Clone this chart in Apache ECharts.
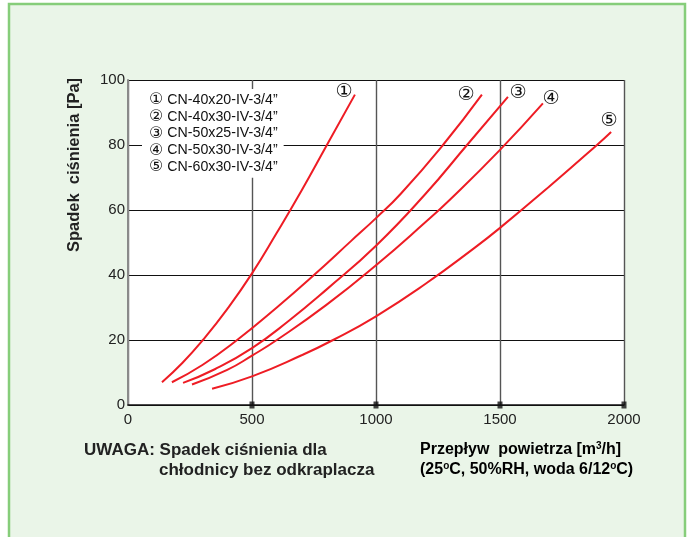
<!DOCTYPE html>
<html><head><meta charset="utf-8">
<script src="https://cdn.jsdelivr.net/npm/echarts@6/dist/echarts.min.js"></script>
<style>html,body{margin:0;padding:0;background:#fff}#c{width:688px;height:537px}</style>
</head><body><div id="c"></div>
<script>
const seriesNames = ['CN-40x20-IV-3/4\u201d','CN-40x30-IV-3/4\u201d','CN-50x25-IV-3/4\u201d','CN-50x30-IV-3/4\u201d','CN-60x30-IV-3/4\u201d'];
const seriesMarks = ['\u2460','\u2461','\u2462','\u2463','\u2464'];
const curve1 = [[137,7],[220,13],[302,20],[400,29.5],[500,40.5],[600,53],[700,66],[802,80],[915,95.5]];
const curve2 = [[177,7],[300,12.3],[440,20],[600,30],[750,40],[900,50.5],[1000,57.5],[1100,65],[1270,80],[1427,95.5]];
const curve3 = [[222,6.8],[350,11],[500,17.5],[650,26],[800,35.5],[1000,49],[1200,65],[1367,80],[1532,94.8]];
const curve4 = [[258,6.3],[400,10.8],[500,15.2],[600,20],[800,30.8],[1000,43],[1200,56.3],[1300,63.3],[1500,78.5],[1673,92.8]];
const curve5 = [[339,5],[500,8.8],[700,15.3],[827,20],[1000,27.3],[1200,37.3],[1400,48.5],[1500,54.5],[1700,67.3],[1891,80],[1948,84]];
const curves = [curve1, curve2, curve3, curve4, curve5];
const endLabelOffsets = [[-11,-3],[-16,0],[10,-4],[8,-5],[-2,-11]];
const xTicks = [0,500,1000,1500,2000];
const yTicks = [0,20,40,60,80,100];
const tickMarks = [[500,0],[1000,0],[1500,0],[2000,0]];
const yAxisTitle = 'Spadek  ci\u015bnienia [Pa]';
const noteLine1 = 'UWAGA: Spadek ci\u015bnienia dla';
const noteLine2 = 'ch\u0142odnicy bez odkraplacza';
const flowLine1 = ['Przep\u0142yw  powietrza [m','3','/h]'];
const flowLine2 = ['(25','o','C, 50%RH, woda 6/12','o','C)'];

const FONT = 'Arial, "Liberation Sans", "DejaVu Sans", sans-serif';
const chart = echarts.init(document.getElementById('c'), null, {renderer:'canvas'});

const lineSeries = curves.map((d, i) => ({
  type: 'line', name: seriesNames[i], data: d, smooth: true, symbol: 'none',
  lineStyle: {color: '#ee1c24', width: 2}, itemStyle: {color: '#ee1c24'},
  z: 3,
  endLabel: {show: true, formatter: seriesMarks[i], distance: 0, align: 'center', verticalAlign: 'middle',
    offset: endLabelOffsets[i], fontSize: 19, color: '#111', fontFamily: FONT}
}));

const option = {
  backgroundColor: '#ffffff',
  animation: false,
  grid: {left: 128, right: 64, top: 80, bottom: 132, show: true, backgroundColor: '#ffffff', borderWidth: 0},
  xAxis: {type: 'value', min: xTicks[0], max: xTicks[xTicks.length-1], interval: xTicks[1]-xTicks[0],
    axisLine: {show: true, lineStyle: {color: '#111', width: 1.5}},
    axisTick: {show: false},
    axisLabel: {margin: 7, fontSize: 15, color: '#222', fontFamily: FONT, formatter: v => String(v)},
    splitLine: {show: true, lineStyle: {color: '#555', width: 1.4}}
  },
  yAxis: {type: 'value', min: yTicks[0], max: yTicks[yTicks.length-1], interval: yTicks[1]-yTicks[0],
    axisLine: {show: true, lineStyle: {color: '#8a8a8a', width: 2}},
    axisTick: {show: false},
    axisLabel: {margin: 3, fontSize: 15, color: '#222', fontFamily: FONT, formatter: v => String(v)},
    splitLine: {show: true, lineStyle: {color: '#111', width: 1}}
  },
  legend: {
    data: seriesNames, orient: 'vertical', left: 142, top: 89, selectedMode: false,
    backgroundColor: '#ffffff', padding: [3, 6, 3, 2],
    icon: 'rect', itemWidth: 0, itemHeight: 14, itemGap: 0.7,
    itemStyle: {opacity: 0}, lineStyle: {opacity: 0},
    formatter: name => '{m|' + seriesMarks[seriesNames.indexOf(name)] + '} ' + name,
    textStyle: {fontSize: 14.2, lineHeight: 14, color: '#111', fontFamily: FONT,
      rich: {m: {fontSize: 16, lineHeight: 14, color: '#111', fontFamily: FONT}}}
  },
  series: lineSeries.concat([{
    type: 'scatter', name: 'ticks', data: tickMarks, symbol: 'rect', symbolSize: [5, 7],
    itemStyle: {color: '#111'}, clip: false, z: 5, silent: true
  }]),
  graphic: [
    {type: 'rect', z: -10, shape: {x: 9, y: 4, width: 676, height: 545},
      style: {fill: '#eaf5e8', stroke: '#86cd7a', lineWidth: 2.5}},
    {type: 'text', z: 10, x: 74, y: 165, rotation: Math.PI/2,
      style: {text: yAxisTitle, font: 'bold 16.5px ' + FONT, fill: '#222',
        align: 'center', verticalAlign: 'middle'}},
    {type: 'text', z: 10, x: 84, y: 450,
      style: {text: noteLine1, font: 'bold 17px ' + FONT, fill: '#222', align: 'left', verticalAlign: 'middle'}},
    {type: 'text', z: 10, x: 159, y: 470,
      style: {text: noteLine2, font: 'bold 17px ' + FONT, fill: '#222', align: 'left', verticalAlign: 'middle'}},
    {type: 'text', z: 10, x: 420, y: 450,
      style: {text: '{b|' + flowLine1[0] + '}{s|' + flowLine1[1] + '}{b|' + flowLine1[2] + '}',
        align: 'left', verticalAlign: 'middle',
        rich: {b: {font: 'bold 16px ' + FONT, color: '#222'},
               s: {font: 'bold 10px ' + FONT, color: '#222', padding: [0, 0, 8, 0]}}}},
    {type: 'text', z: 10, x: 420, y: 470,
      style: {text: '{b|' + flowLine2[0] + '}{s|' + flowLine2[1] + '}{b|' + flowLine2[2] + '}{s|' + flowLine2[3] + '}{b|' + flowLine2[4] + '}',
        align: 'left', verticalAlign: 'middle',
        rich: {b: {font: 'bold 16px ' + FONT, color: '#222'},
               s: {font: 'bold 10px ' + FONT, color: '#222', padding: [0, 0, 8, 0]}}}}
  ]
};
chart.setOption(option);
</script></body></html>
